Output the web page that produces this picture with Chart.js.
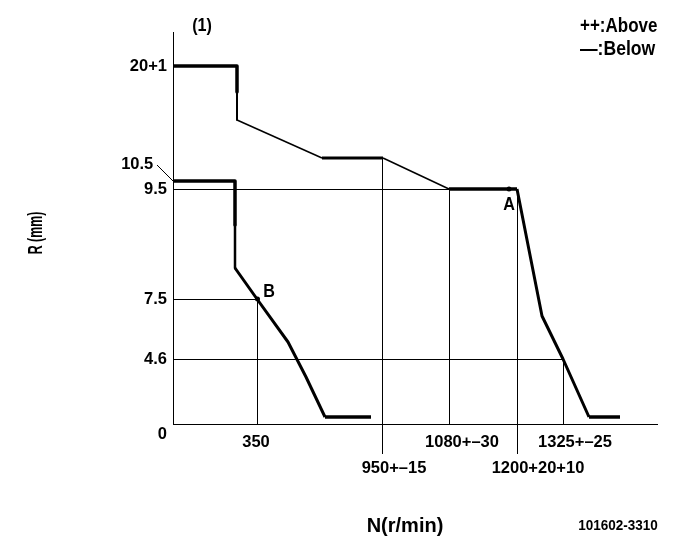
<!DOCTYPE html>
<html><head><meta charset="utf-8">
<style>html,body{margin:0;padding:0;background:#fff}canvas{display:block}</style>
<script src="https://cdn.jsdelivr.net/npm/chart.js@4"></script></head>
<body><canvas id="c" width="685" height="549"></canvas>
<script>
// The drawing is a schematic (its N and R axes are not to scale), so values are in drawing units read off the picture.
const upperX = [0, 64, 64, 64, 149, 210, 276, 344, 369, 390, 416, 447];
const upperY = [358, 358, 332, 304, 266, 266, 235, 235, 108, 65, 7, 7];
const upperW = [3.5, 3.5, 2, 1.5, 3, 1.5, 3.5, 3, 3, 3, 3.5];
const lowerX = [0, 62, 62, 62, 84, 115, 133, 152, 198];
const lowerY = [243, 243, 199, 156, 125, 82, 47, 7, 7];
const lowerW = [3.5, 3.5, 2.5, 3, 3, 3, 3, 3.5];
const markX = [84.5, 336];
const markY = [125, 235];
const xTickValues = [83, 221, 289, 365, 402];
const xTickLabels = ['350', ['', '950+–15'], '1080+–30', ['', '1200+20+10'], '1325+–25'];
const yTickValues = [358, 260, 235, 125, 65, -10];
const yTickLabels = ['20+1', '10.5\u00a0\u00a0\u00a0', '9.5', '7.5', '4.6', '0'];
const guides = [
  [[0, 234.5], [344, 234.5]],
  [[0, 124.5], [84, 124.5]],
  [[0, 64.5], [390, 64.5]],
  [[84.5, 125], [84.5, 0]],
  [[209.5, 266], [209.5, -30]],
  [[276.5, 235], [276.5, 0]],
  [[344.5, 235], [344.5, -30]],
  [[390.5, 65], [390.5, 0]],
  [[-16, 259], [0, 243]]
];
const notes = [
  ['(1)', 202, 26, 'center', 19, 0.85],
  ['++:Above', 580, 26, 'left', 20, 0.85],
  ['—:Below', 580, 49, 'left', 20, 0.88],
  ['R (mm)', 36, 233, 'rot', 20, 0.62],
  ['N(r/min)', 405, 526, 'center', 20, 1],
  ['101602-3310', 618, 526, 'center', 15, 0.9],
  ['A', 509, 205, 'center', 19, 0.85],
  ['B', 269, 292, 'center', 19, 0.85]
];
const FONT = '"Liberation Sans", Arial, sans-serif';
const zip = (xs, ys) => xs.map((x, i) => ({x, y: ys[i]}));
const curve = (label, xs, ys, ws) => ({
  label, data: zip(xs, ys), borderColor: '#000', pointRadius: 0, clip: false,
  borderWidth: 3, borderCapStyle: 'butt', borderJoinStyle: 'round',
  segment: {borderWidth: c => ws[c.p0DataIndex]}
});
const notesPlugin = {
  id: 'notes',
  afterDraw(chart) {
    const g = chart.ctx;
    notes.forEach(([t, x, y, a, s, k]) => {
      g.save();
      g.fillStyle = '#000';
      g.font = `bold ${s}px ${FONT}`;
      g.textBaseline = 'middle';
      g.translate(x, y);
      if (a === 'rot') { g.rotate(-Math.PI / 2); g.textAlign = 'center'; }
      else g.textAlign = a;
      g.scale(k, 1);
      g.fillText(t, 0, 0);
      g.restore();
    });
  }
};
new Chart(document.getElementById('c'), {
  type: 'line',
  data: {datasets: [
    ...guides.map((p, i) => ({
      label: 'guide' + i, data: p.map(([x, y]) => ({x, y})), borderColor: '#000',
      borderWidth: 1, pointRadius: 0, clip: false
    })),
    curve('Above', upperX, upperY, upperW),
    curve('Below', lowerX, lowerY, lowerW),
    {label: 'points', data: zip(markX, markY), showLine: false, pointRadius: 2.5,
     pointBackgroundColor: '#000', pointBorderWidth: 0, clip: false}
  ]},
  options: {
    responsive: false, animation: false, events: [],
    layout: {padding: {top: 32, right: 28, left: 0, bottom: 0}},
    plugins: {legend: {display: false}, tooltip: {enabled: false}, title: {display: false}},
    scales: {
      x: {
        type: 'linear', min: 0, max: 484,
        grid: {display: false, drawTicks: false},
        border: {color: '#000', width: 1},
        afterFit: s => { s.height = 125; },
        afterBuildTicks: s => { s.ticks = xTickValues.map(value => ({value})); },
        ticks: {
          autoSkip: false, maxRotation: 0, padding: 5, color: '#000', align: 'center',
          font: {family: FONT, size: 16.5, weight: 'bold', lineHeight: 1.58},
          callback: (v) => xTickLabels[xTickValues.indexOf(v)]
        }
      },
      y: {
        type: 'linear', min: 0, max: 392,
        grid: {display: false, drawTicks: false},
        border: {color: '#000', width: 1},
        afterFit: s => { s.width = 173; },
        afterBuildTicks: s => { s.ticks = yTickValues.map(value => ({value})); },
        ticks: {
          autoSkip: false, padding: 6, color: '#000',
          font: {family: FONT, size: 16.5, weight: 'bold'},
          callback: (v) => yTickLabels[yTickValues.indexOf(v)]
        }
      }
    }
  },
  plugins: [notesPlugin]
});
</script></body></html>
